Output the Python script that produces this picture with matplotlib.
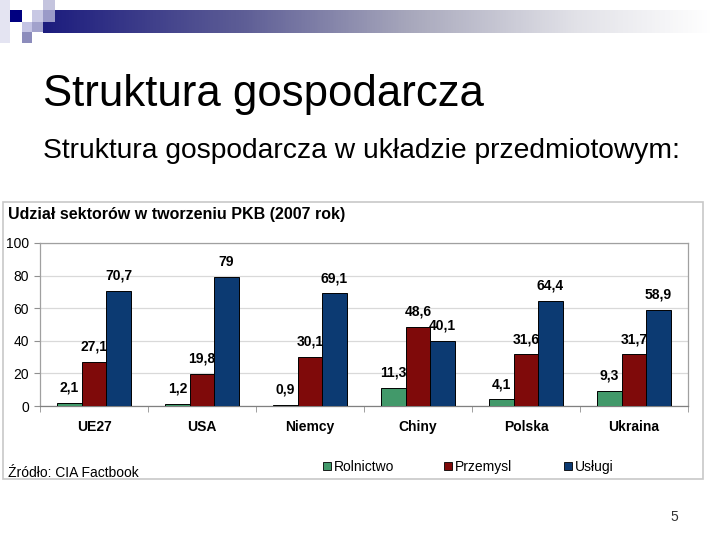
import matplotlib
matplotlib.use("Agg")
import matplotlib.pyplot as plt
import numpy as np
from matplotlib.patches import Rectangle
from matplotlib.colors import LinearSegmentedColormap

plt.rcParams['font.family'] = ['Liberation Sans', 'DejaVu Sans']

categories = ["UE27", "USA", "Niemcy", "Chiny", "Polska", "Ukraina"]
series_names = ["Rolnictwo", "Przemysl", "Usługi"]
rolnictwo = [2.1, 1.2, 0.9, 11.3, 4.1, 9.3]
przemysl = [27.1, 19.8, 30.1, 48.6, 31.6, 31.7]
uslugi = [70.7, 79, 69.1, 40.1, 64.4, 58.9]
series_values = [rolnictwo, przemysl, uslugi]
series_colors = ["#42996a", "#7f0a0a", "#0c3a72"]
yticks = [0, 20, 40, 60, 80, 100]

W, H = 720, 540
fig = plt.figure(figsize=(W / 100, H / 100), dpi=100)
fig.patch.set_facecolor("white")

# overlay in pixel coordinates for slide decorations
ov = fig.add_axes([0, 0, 1, 1], zorder=0)
ov.set_xlim(0, W)
ov.set_ylim(H, 0)
ov.axis("off")
ov.patch.set_alpha(0)

# header gradient bar
cmap = LinearSegmentedColormap.from_list(
    "hdr", [(0, "#1c1c7e"), (0.3, "#5e5e96"), (0.55, "#a8a8bc"),
            (0.8, "#e2e2e8"), (1.0, "#ffffff")])
grad = np.linspace(0, 1, 512).reshape(1, -1)
ov.imshow(grad, cmap=cmap, extent=(43, 712, 33, 10), aspect="auto", zorder=1)

# corner squares
squares = [
    (0, 0, 10, 43, "#e4e4f2"),
    (10, 10, 12, 12, "#000080"),
    (32, 10, 11, 12, "#c8c8e4"),
    (43, 0, 12, 10, "#c4c4de"),
    (43, 10, 12, 12, "#9a9ac8"),
    (22, 22, 10, 10, "#c4c4e4"),
    (32, 22, 11, 10, "#a2a2cc"),
    (22, 32, 10, 11, "#8c8cbc"),
]
for x, y, w, h, c in squares:
    ov.add_patch(Rectangle((x, y), w, h, facecolor=c, edgecolor="none", zorder=2))

# slide titles
ov.text(43, 106, "Struktura gospodarcza", fontsize=31.5, color="black",
        va="baseline", ha="left")
ov.text(43, 158, "Struktura gospodarcza w układzie przedmiotowym:", fontsize=20.3,
        color="black", va="baseline", ha="left")
ov.text(678, 521, "5", fontsize=10, color="#333333", va="baseline", ha="right")

# chart frame
ov.add_patch(Rectangle((3, 202), 700, 277, facecolor="white",
                       edgecolor="#c8c8c8", linewidth=1.2, zorder=1))
ov.text(8, 219, "Udział sektorów w tworzeniu PKB (2007 rok)", fontsize=11.5,
        fontweight="bold", va="baseline", ha="left", zorder=3)
ov.text(8, 477, "Źródło: CIA Factbook", fontsize=10, va="baseline", ha="left", zorder=3)

# legend
leg_x = [323, 444, 564]
for lx, name, col in zip(leg_x, series_names, series_colors):
    ov.add_patch(Rectangle((lx, 462), 8, 8, facecolor=col, edgecolor="black",
                           linewidth=0.6, zorder=3))
    ov.text(lx + 11, 471, name, fontsize=10, va="baseline", ha="left", zorder=3)

# main chart axes
left, right, top, bottom = 40, 688, 243, 406
ax = fig.add_axes([left / W, 1 - bottom / H, (right - left) / W, (bottom - top) / H],
                  zorder=2)
ax.set_facecolor("white")
x = np.arange(len(categories))
bw = 0.227
offsets = [-bw, 0, bw]
for vals, off, col in zip(series_values, offsets, series_colors):
    bars = ax.bar(x + off, vals, width=bw, color=col, edgecolor="black",
                  linewidth=0.7, zorder=3)
    for b, v in zip(bars, vals):
        lab = ("%g" % v).replace(".", ",")
        ax.annotate(lab, (b.get_x() + b.get_width() / 2, v), xytext=(0, 11),
                    textcoords="offset points", ha="center", va="center",
                    fontsize=10, fontweight="bold", zorder=4)

ax.set_xlim(-0.5, len(categories) - 0.5)
ax.set_ylim(0, 100)
ax.set_yticks(yticks)
ax.set_yticklabels([str(t) for t in yticks], fontsize=10)
ax.yaxis.grid(True, color="#d9d9d9", linewidth=0.9, zorder=0)
ax.set_axisbelow(True)
ax.set_xticks(x)
ax.set_xticklabels(categories, fontsize=10, fontweight="bold")
ax.tick_params(axis="x", length=0, pad=10)
ax.set_xticks(np.arange(len(categories) + 1) - 0.5, minor=True)
ax.tick_params(axis="x", which="minor", length=4, color="#909090", direction="out")
ax.tick_params(axis="y", length=4, color="#909090", pad=4)
for s in ax.spines.values():
    s.set_color("#a0a0a0")
    s.set_linewidth(0.9)
ax.spines["bottom"].set_color("#808080")

fig.savefig("out.png", dpi=100, facecolor="white")
